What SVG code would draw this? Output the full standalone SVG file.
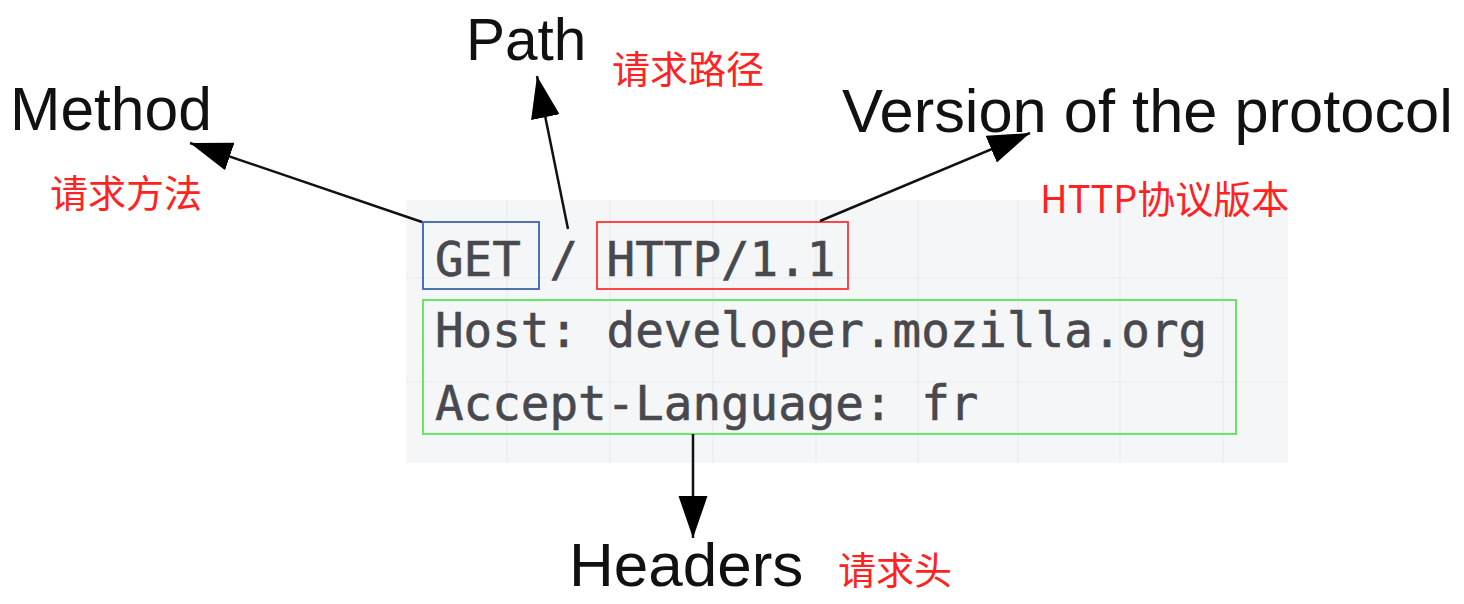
<svg xmlns="http://www.w3.org/2000/svg" width="1464" height="604" viewBox="0 0 1464 604">
<style>
.lbl{font-family:"Liberation Sans",Arial,sans-serif;fill:#111;}
.cn{font-family:"Noto Sans CJK SC","Liberation Sans",sans-serif;fill:#ff2222;font-size:38px;}
.code{font-family:"DejaVu Sans Mono","Liberation Mono",monospace;fill:#48494e;stroke:#48494e;stroke-width:0.6;font-size:47.5px;}
.grid{stroke:#eaebed;stroke-width:1.2;}
.conn{stroke:#111;stroke-width:2.5;fill:none;marker-end:url(#ah);}
</style>
<defs>
<marker id="ah" markerUnits="userSpaceOnUse" markerWidth="44" markerHeight="30" refX="42" refY="14.5" orient="auto">
<path d="M0,0 L42,14.5 L0,29 z" fill="#000"/>
</marker>
</defs>
<rect width="1464" height="604" fill="#fff"/>
<g id="code-bg">
<rect x="406" y="200" width="882" height="263" fill="#f5f6f7"/>
<g class="grid">
<line x1="507" y1="200" x2="507" y2="463"/>
<line x1="610" y1="200" x2="610" y2="463"/>
<line x1="713" y1="200" x2="713" y2="463"/>
<line x1="816" y1="200" x2="816" y2="463"/>
<line x1="918" y1="200" x2="918" y2="463"/>
<line x1="1018" y1="200" x2="1018" y2="463"/>
<line x1="1120" y1="200" x2="1120" y2="463"/>
<line x1="1223" y1="200" x2="1223" y2="463"/>
<line x1="406" y1="278" x2="1288" y2="278"/>
<line x1="406" y1="382" x2="1288" y2="382"/>
</g>
</g>
<g id="code-text">
<text class="code" x="435" y="276" xml:space="preserve">GET / HTTP/1.1</text>
<text class="code" x="435" y="347">Host: developer.mozilla.org</text>
<text class="code" x="435" y="420">Accept-Language: fr</text>
</g>
<g id="method-box"><rect x="423" y="222" width="116" height="67" fill="none" stroke="#3d63ad" stroke-width="1.8"/></g>
<g id="version-box"><rect x="597" y="222" width="251" height="67" fill="none" stroke="#ff3333" stroke-width="1.8"/></g>
<g id="headers-box"><rect x="423" y="300" width="813" height="134" fill="none" stroke="#66e866" stroke-width="2"/></g>
<g id="connectors">
<line class="conn" x1="422" y1="222" x2="190" y2="143"/>
<line class="conn" x1="568" y1="229" x2="537" y2="76"/>
<line class="conn" x1="820" y1="221" x2="1030" y2="133"/>
<line class="conn" x1="693" y1="434" x2="693" y2="538"/>
</g>
<g id="method-label">
<text class="lbl" x="10" y="130" font-size="60.5">Method</text>
<text class="cn" x="50" y="207">请求方法</text>
</g>
<g id="path-label">
<text class="lbl" x="466" y="60" font-size="58.5">Path</text>
<text class="cn" x="612" y="83">请求路径</text>
</g>
<g id="version-label">
<text class="lbl" x="842" y="132" font-size="61.4">Version of the protocol</text>
<text class="cn" x="1040" y="213">HTTP协议版本</text>
</g>
<g id="headers-label">
<text class="lbl" x="569" y="586" font-size="62">Headers</text>
<text class="cn" x="838" y="584">请求头</text>
</g>
</svg>
